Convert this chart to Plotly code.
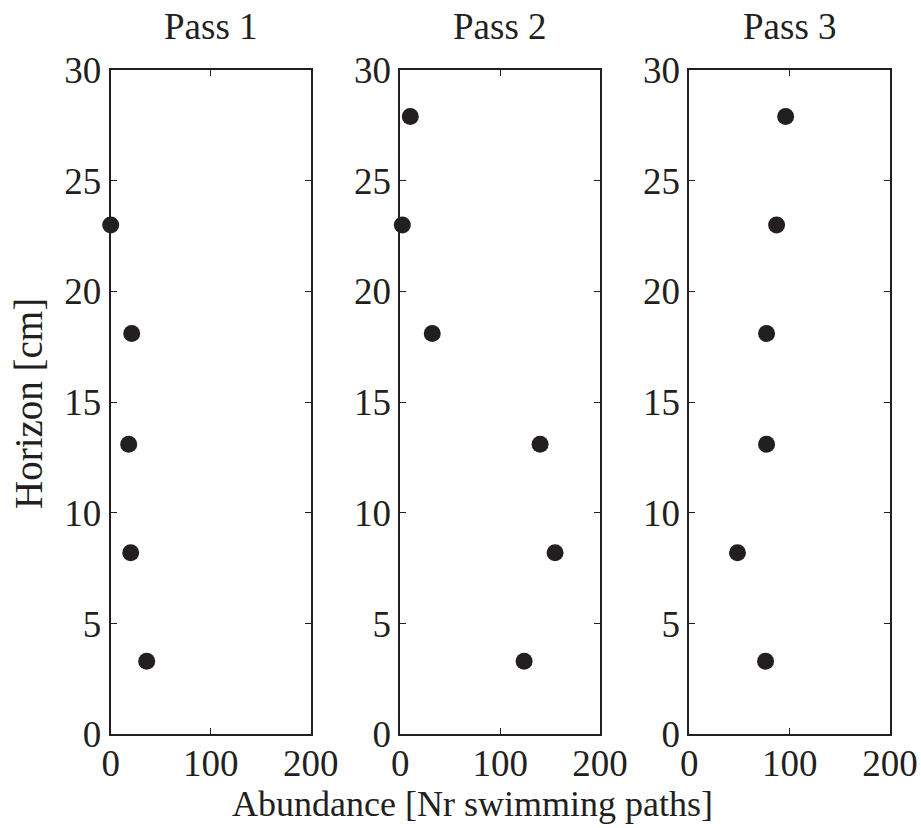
import plotly.graph_objects as go
from plotly.subplots import make_subplots

# Horizon depth (cm) at which each abundance was recorded
horizon = [3.3, 8.2, 13.1, 18.1, 23.0, 27.9]

# Abundance (number of swimming paths) per pass, by horizon
pass1 = [36, 20, 18, 21, 0, None]
pass2 = [124, 155, 140, 32, 2, 10]
pass3 = [76, 48, 77, 77, 87, 96]

titles = ["Pass 1", "Pass 2", "Pass 3"]
x_ticks = [0, 100, 200]
y_ticks = [0, 5, 10, 15, 20, 25, 30]

FONT = "Liberation Serif"
INK = "#231f20"

W, H = 921, 828
fig = make_subplots(rows=1, cols=3)

for i, series in enumerate([pass1, pass2, pass3]):
    xs = [v for v in series if v is not None]
    ys = [h for h, v in zip(horizon, series) if v is not None]
    fig.add_trace(
        go.Scatter(x=xs, y=ys, mode="markers",
                   marker=dict(size=17, color=INK, line=dict(width=0)),
                   showlegend=False, cliponaxis=False),
        row=1, col=i + 1)

# panel edges in pixels (left, right)
panels = [(110.7, 310.7), (400.3, 600.0), (689.3, 890.0)]
top_px, bot_px = 70.0, 734.3

for i, (l, r) in enumerate(panels):
    xa = "xaxis" if i == 0 else f"xaxis{i + 1}"
    ya = "yaxis" if i == 0 else f"yaxis{i + 1}"
    fig.layout[xa].update(
        domain=[l / W, r / W], range=[0, 200], tickvals=x_ticks,
        ticks="inside", ticklen=6, tickwidth=1, tickcolor=INK,
        showline=True, linecolor=INK, linewidth=2, mirror="ticks",
        showgrid=False, zeroline=False, automargin=False,
        ticklabelstandoff=-5,
        tickfont=dict(family=FONT, size=37, color=INK))
    fig.layout[ya].update(
        domain=[1 - bot_px / H, 1 - top_px / H], range=[0, 30], tickvals=y_ticks,
        ticks="inside", ticklen=6, tickwidth=1, tickcolor=INK,
        showline=True, linecolor=INK, linewidth=2, mirror="ticks",
        showgrid=False, zeroline=False, automargin=False,
        tickfont=dict(family=FONT, size=37, color=INK))
    fig.add_annotation(
        text=titles[i], x=(l + r) / 2 / W, y=1 - 26 / H,
        xref="paper", yref="paper", showarrow=False,
        xanchor="center", yanchor="middle",
        font=dict(family=FONT, size=37, color=INK))

fig.add_annotation(
    text="Abundance [Nr swimming paths]", x=472 / W, y=1 - 804 / H,
    xref="paper", yref="paper", showarrow=False,
    xanchor="center", yanchor="middle",
    font=dict(family=FONT, size=36, color=INK))
fig.add_annotation(
    text="Horizon [cm]", x=29 / W, y=1 - 404 / H, textangle=-90,
    xref="paper", yref="paper", showarrow=False,
    xanchor="center", yanchor="middle",
    font=dict(family=FONT, size=39, color=INK))

fig.update_layout(
    width=W, height=H, margin=dict(l=0, r=0, t=0, b=0, autoexpand=False),
    paper_bgcolor="white", plot_bgcolor="white",
    font=dict(family=FONT, color=INK))

fig.write_html("out.html")
